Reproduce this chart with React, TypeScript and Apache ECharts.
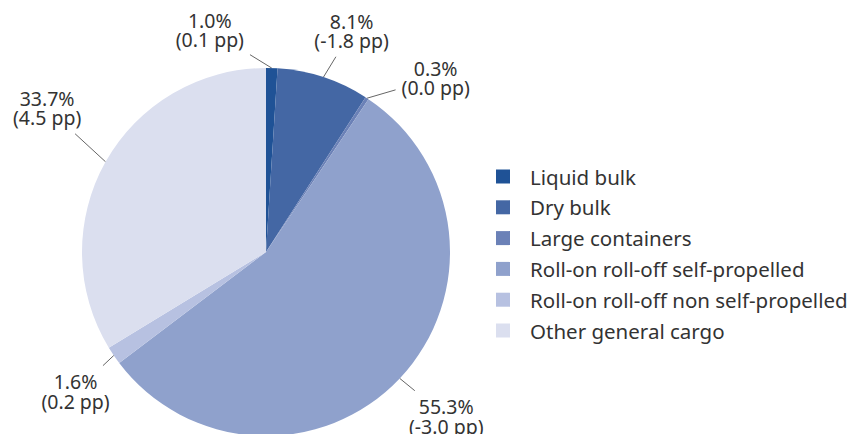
import React, { useEffect, useRef } from "react";
import * as echarts from "echarts";

const categories = [
  "Liquid bulk",
  "Dry bulk",
  "Large containers",
  "Roll-on roll-off self-propelled",
  "Roll-on roll-off non self-propelled",
  "Other general cargo",
];
const shares = [1.0, 8.1, 0.3, 55.3, 1.6, 33.7];
const changes = ["0.1", "-1.8", "0.0", "-3.0", "0.2", "4.5"];
const colors = ["#1f5296", "#4467a4", "#6b81b7", "#8fa1cc", "#b7c1e1", "#dbdfef"];

// label placement tuning (degrees shift of label direction, label radius)
const labelAngleShift = [-16, 3, 11, -1, -2, 4];
const labelRadius = [229, 237, 243, 244, 236, 262];

export default function App() {
  const ref = useRef<HTMLDivElement>(null);
  useEffect(() => {
    document.body.style.margin = "0";
    const chart = echarts.init(ref.current!, null, { renderer: "svg" });
    const font = "Noto Sans";
    const cx = 266;
    const cy = 252;
    const R = 184;
    const total = shares.reduce((a, b) => a + b, 0);
    const mids: number[] = [];
    let acc = 0;
    shares.forEach((s) => {
      mids.push(((acc + s / 2) / total) * 360);
      acc += s;
    });
    chart.setOption({
      animation: false,
      color: colors,
      textStyle: { fontFamily: font },
      legend: {
        orient: "vertical",
        left: 491,
        top: 161,
        itemWidth: 14,
        itemHeight: 14,
        itemGap: 9.8,
        icon: "rect",
        textStyle: {
          fontSize: 20.5,
          lineHeight: 20,
          color: "#333",
          fontFamily: font,
          padding: [0, 0, 0, 15],
        },
        data: categories,
      },
      series: [
        {
          type: "pie",
          center: [cx, cy],
          radius: [0, R],
          startAngle: 90,
          clockwise: true,
          avoidLabelOverlap: false,
          label: {
            show: true,
            position: "outside",
            color: "#333",
            fontSize: 19.5,
            lineHeight: 19.5,
            fontFamily: font,
            formatter: (p: any) => `${shares[p.dataIndex].toFixed(1)}%\n(${changes[p.dataIndex]} pp)`,
          },
          labelLine: {
            show: true,
            length: 10,
            length2: 0,
            lineStyle: { color: "#666", width: 1 },
          },
          labelLayout: (p: any) => {
            const i = p.dataIndex;
            const a0 = (mids[i] * Math.PI) / 180;
            const a1 = ((mids[i] + labelAngleShift[i]) * Math.PI) / 180;
            const sx = cx + R * Math.sin(a0);
            const sy = cy - R * Math.cos(a0);
            const lx = cx + labelRadius[i] * Math.sin(a1);
            const ly = cy - labelRadius[i] * Math.cos(a1);
            const w = p.labelRect.width / 2 + 6;
            const h = p.labelRect.height / 2 + 6;
            const dx = sx - lx;
            const dy = sy - ly;
            const t = Math.min(w / Math.abs(dx || 1e-6), h / Math.abs(dy || 1e-6));
            const ex = lx + dx * t;
            const ey = ly + dy * t;
            return {
              x: lx,
              y: ly,
              align: "center",
              verticalAlign: "middle",
              hideOverlap: false,
              labelLinePoints: [
                [sx, sy],
                [ex, ey],
                [ex, ey],
              ],
            };
          },
          itemStyle: { borderWidth: 0 },
          data: categories.map((c, i) => ({ name: c, value: shares[i] })),
        },
      ],
    });
    return () => chart.dispose();
  }, []);
  return <div ref={ref} style={{ width: 856, height: 434 }} />;
}
